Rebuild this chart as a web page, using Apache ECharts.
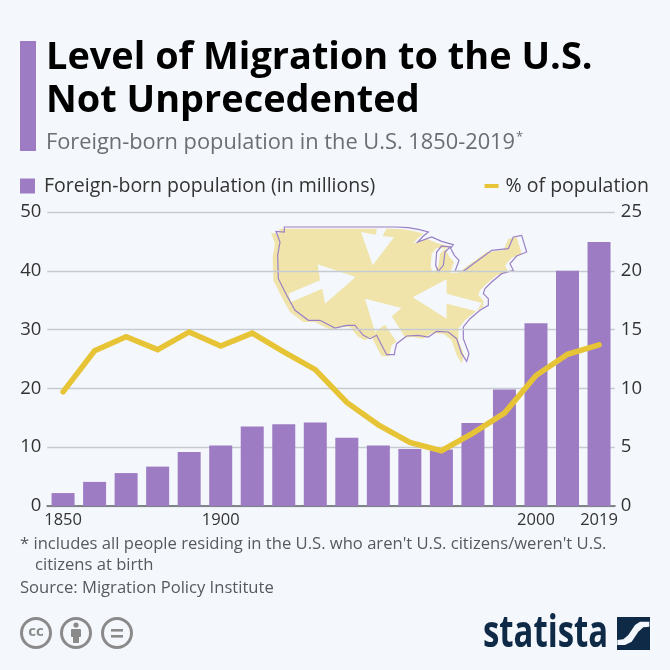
<!DOCTYPE html>
<html><head><meta charset="utf-8">
<style>html,body{margin:0;padding:0;background:#f4f7fb}#c{width:670px;height:670px}</style>
<script src="https://cdn.jsdelivr.net/npm/echarts@6/dist/echarts.min.js"></script>
</head><body><div id="c"></div>
<script>
const categories = ['1850','1860','1870','1880','1890','1900','1910','1920','1930','1940','1950','1960','1970','1980','1990','2000','2010','2019'];
const shownYears = ['1850','1900','2000','2019'];
const foreignBorn = [2.2,4.1,5.6,6.7,9.2,10.3,13.5,13.9,14.2,11.6,10.3,9.7,9.6,14.1,19.8,31.1,40,44.9];
const percentPop = [9.7,13.2,14.4,13.3,14.8,13.6,14.7,13.1,11.6,8.8,6.9,5.4,4.7,6.2,7.9,11.1,12.9,13.7];

const FONT='"Open Sans"';
const BG='#f4f7fb', PURPLE='#9d7cc4', YEL='#e6c435';
// decorative map sketch: origin (265,222), 3 units per pixel
const east=[[0,15],[40,17],[70,22],[100,30],[85,42],[68,60],[110,45],[140,58],[175,68],[170,75],[140,72],[125,90],[122,130],[130,148],[145,130],[150,90],[165,75],[178,100],[192,115],[180,148],[205,148],[235,125],[270,100],[290,85],[340,80],[355,45],[380,40],[395,90],[365,102],[345,125],[355,145],[320,155],[290,180],[270,200],[265,215],[280,230],[280,250],[255,265],[225,290],[205,315],[205,350],[222,395],[215,418],[200,395],[185,350],[160,330],[125,328],[100,345],[70,340],[35,342],[5,365],[0,385]].map(([x,y])=>[x+390,y]);
const west=[[388,398],[365,398],[345,360],[335,340],[315,350],[295,340],[270,310],[245,310],[210,318],[165,295],[130,295],[90,265],[65,220],[40,170],[38,100],[45,60],[33,28],[58,30],[58,15]];
const outline=[[58,15],...east,...west];
const arrows=[
 [[288,30],[332,38],[337,15],[367,15],[353,42],[387,46],[323,130]],
 [[158,127],[272,165],[180,245],[172,200],[78,240],[70,215],[165,175]],
 [[545,172],[443,226],[545,290],[545,245],[635,268],[650,243],[545,215]],
 [[300,230],[410,258],[380,283],[420,345],[395,360],[360,308],[330,330]]
];
const mp=(p,dx=0,dy=0)=>p.map(([x,y])=>[265+(x+dx)/3,222+(y+dy)/3]);
const swoosh=[[427,105],[445,103],[460,90],[480,60],[495,50],[523,50],[523,65],[505,67],[490,80],[470,110],[450,120],[427,120]].map(([x,y])=>[475+x/3,605+y/3]);
const txt=(t,x,y,size,fill,extra={})=>({type:'text',x,y,style:Object.assign({text:t,font:`${size}px ${FONT}`,fill,textVerticalAlign:'middle'},extra)});
const chart=echarts.init(document.getElementById('c'),null,{renderer:'canvas'});
chart.setOption({
 animation:false,
 backgroundColor:BG,
 textStyle:{fontFamily:FONT},
 grid:{left:47.3,right:55.2,top:212,height:294},
 legend:[
  {left:20,top:176,padding:0,itemWidth:15,itemHeight:15,icon:'rect',data:['Foreign-born population (in millions)'],textStyle:{fontSize:19.5,color:'#333',fontFamily:FONT,padding:[0,0,0,4]}},
  {right:21,top:176,padding:0,itemWidth:14,itemHeight:4,icon:'rect',data:['% of population'],textStyle:{fontSize:19.5,color:'#333',fontFamily:FONT,padding:[0,0,0,2]}}
 ],
 xAxis:{type:'category',data:categories,
  axisTick:{show:false},axisLine:{show:true,lineStyle:{color:'#7f8488',width:2}},
  axisLabel:{interval:0,fontSize:16.5,color:'#333',margin:6,fontFamily:FONT,formatter:v=>shownYears.includes(v)?v:''}},
 yAxis:[
  {type:'value',min:0,max:50,interval:10,axisLine:{show:false},axisTick:{show:false},
   axisLabel:{fontSize:18.5,color:'#333',margin:6,fontFamily:FONT},
   splitLine:{lineStyle:{color:'#c6cbd2',width:1.4}}},
  {type:'value',min:0,max:25,interval:5,axisLine:{show:false},axisTick:{show:false},
   axisLabel:{fontSize:18.5,color:'#333',margin:6,fontFamily:FONT},splitLine:{show:false}}
 ],
 series:[
  {name:'Foreign-born population (in millions)',type:'bar',data:foreignBorn,barWidth:23,itemStyle:{color:PURPLE},z:3},
  {name:'% of population',type:'line',yAxisIndex:1,data:percentPop,symbol:'none',lineStyle:{color:YEL,width:5.5,cap:'round',join:'miter'},itemStyle:{color:YEL},z:4}
 ],
 graphic:{z:-1,elements:[
  {type:'rect',shape:{x:20,y:41,width:16,height:110},style:{fill:PURPLE}},
  {type:'text',x:46,y:58,style:{text:'Level of Migration to the U.S.',font:`bold 37.9px ${FONT}`,fill:'#000',textVerticalAlign:'middle'}},
  {type:'text',x:46,y:101,style:{text:'Not Unprecedented',font:`bold 37.9px ${FONT}`,fill:'#000',textVerticalAlign:'middle'}},
  txt('Foreign-born population in the U.S. 1850-2019',46,143,21.8,'#6a6f75'),
  txt('*',516,137,13,'#6a6f75'),
  // map
  {type:'polygon',z:-5,shape:{points:mp(outline,-15,5)},style:{fill:'#f0e4aa'}},
  ...arrows.map(a=>({type:'polygon',z:-4,shape:{points:mp(a)},style:{fill:BG}})),
  {type:'polygon',z:-3,shape:{points:mp(outline)},style:{fill:'none',stroke:'#9a80c6',lineWidth:1.2}},
  // footnote
  txt("* includes all people residing in the U.S. who aren't U.S. citizens/weren't U.S.",20,544,16.6,'#555a60'),
  txt('citizens at birth',35,565,16.6,'#555a60'),
  txt('Source: Migration Policy Institute',20,588,16.6,'#555a60'),
  // cc icons
  {type:'circle',shape:{cx:36,cy:633,r:14.5},style:{fill:'none',stroke:'#8a8a8a',lineWidth:3}},
  {type:'circle',shape:{cx:76,cy:633,r:14.5},style:{fill:'none',stroke:'#8a8a8a',lineWidth:3}},
  {type:'circle',shape:{cx:117,cy:633,r:14.5},style:{fill:'none',stroke:'#8a8a8a',lineWidth:3}},
  {type:'text',x:36,y:632,style:{text:'cc',font:`bold 15px ${FONT}`,fill:'#8a8a8a',textAlign:'center',textVerticalAlign:'middle'}},
  {type:'circle',shape:{cx:76,cy:625,r:2.6},style:{fill:'#8a8a8a'}},
  {type:'rect',shape:{x:71,y:629,width:10,height:8,r:1},style:{fill:'#8a8a8a'}},
  {type:'rect',shape:{x:73,y:636,width:6,height:7},style:{fill:'#8a8a8a'}},
  {type:'rect',shape:{x:111,y:629,width:12,height:2.6},style:{fill:'#8a8a8a'}},
  {type:'rect',shape:{x:111,y:635,width:12,height:2.6},style:{fill:'#8a8a8a'}},
  // logo
  {type:'text',x:483,y:634,scaleX:0.73,style:{text:'statista',font:`bold 45px ${FONT}`,fill:'#0f2a47',textVerticalAlign:'middle'}},
  {type:'rect',shape:{x:617,y:617,width:33,height:33},style:{fill:'#0f2a47'}},
  {type:'polygon',shape:{points:swoosh},style:{fill:BG}}
 ]}
});
</script></body></html>
